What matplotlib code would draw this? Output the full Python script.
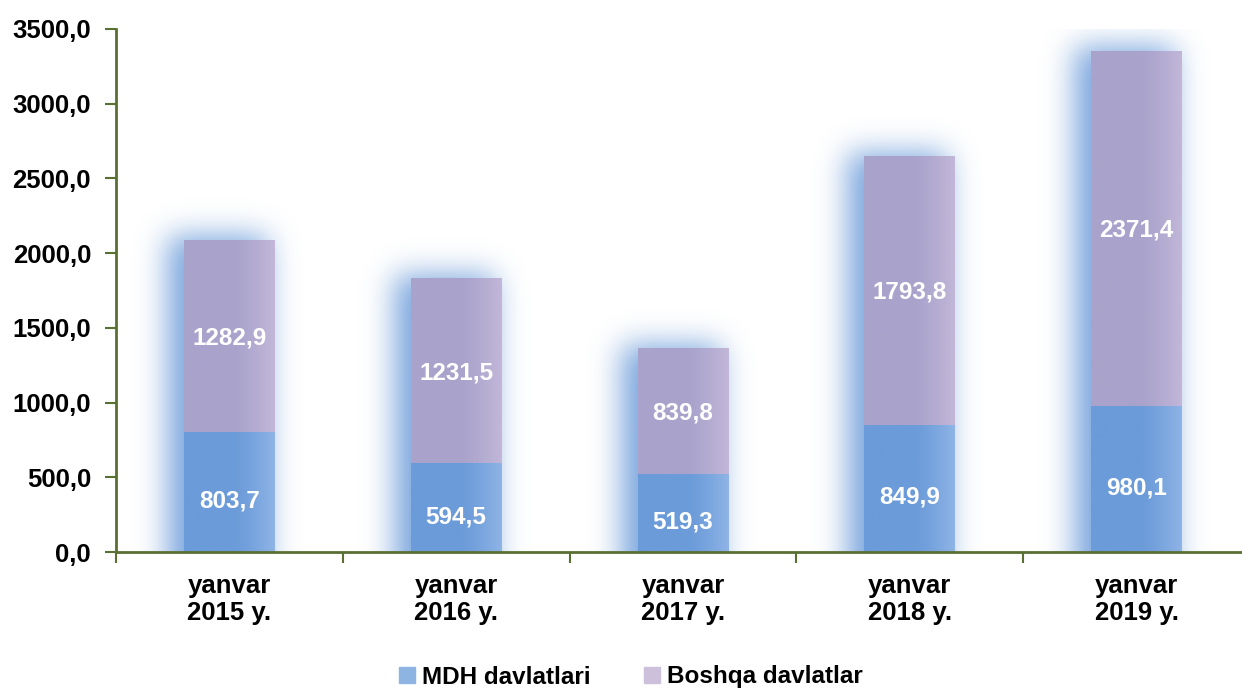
import numpy as np
import matplotlib
import matplotlib.pyplot as plt
from matplotlib.patches import Patch
from matplotlib.colors import to_rgb

matplotlib.rcParams['font.family'] = ['Liberation Sans', 'DejaVu Sans']
matplotlib.rcParams['font.weight'] = 'bold'

# Data
categories = ['yanvar\n2015 y.', 'yanvar\n2016 y.', 'yanvar\n2017 y.', 'yanvar\n2018 y.', 'yanvar\n2019 y.']
mdh = [803.7, 594.5, 519.3, 849.9, 980.1]
boshqa = [1282.9, 1231.5, 839.8, 1793.8, 2371.4]
yticks = [0, 500, 1000, 1500, 2000, 2500, 3000, 3500]

blue = '#6b9bd9'
lilac = '#a9a3cc'
axcol = '#5a7032'

fig = plt.figure(figsize=(12.42, 6.91), dpi=100)
ax = fig.add_axes([116/1242, 139/691, 1134/1242, 523/691])

x = np.arange(len(categories))
mdh = np.array(mdh)
boshqa = np.array(boshqa)
total = mdh + boshqa
w = 0.40
xmin, xmax, ymin, ymax = -0.5, len(x) - 0.5, 0, 3500

# soft blue glow behind the bars, made as a blurred mask image
nx, ny = 1134, 523
px = (xmax - xmin) / nx
py = (ymax - ymin) / ny
gx = xmin + (np.arange(nx) + 0.5) * px
gy = ymin + (np.arange(ny) + 0.5) * py
mask = np.zeros((ny, nx))
for i in range(len(x)):
    inx = (gx >= x[i] - w / 2 - 16 * px) & (gx <= x[i] + w / 2 - 8 * px)
    iny = gy <= total[i] + 4 * py
    mask[np.ix_(iny, inx)] = 1.0
sig = 15
k = np.exp(-0.5 * (np.arange(-3 * sig, 3 * sig + 1) / sig) ** 2)
k /= k.sum()
pad = 3 * sig
m = np.pad(mask, ((pad, pad), (pad, pad)), mode='edge')
m = np.apply_along_axis(lambda r: np.convolve(r, k, mode='same'), 1, m)
m = np.apply_along_axis(lambda c: np.convolve(c, k, mode='same'), 0, m)
m = m[pad:-pad, pad:-pad]
glow = np.zeros((ny, nx, 4))
glow[..., :3] = to_rgb(blue)
glow[..., 3] = np.clip(m * 0.9, 0, 1)
ax.imshow(glow, extent=(xmin, xmax, ymin, ymax), origin='lower', aspect='auto',
          interpolation='bilinear', zorder=1)


def grad(c0, c1, n=64):
    t = np.clip((np.linspace(0, 1, n) - 0.55) / 0.45, 0, 1) ** 1.3
    a = np.array(to_rgb(c0))
    b = np.array(to_rgb(c1))
    return (a[None, :] * (1 - t[:, None]) + b[None, :] * t[:, None])[None, :, :]


gblue = grad(blue, '#8fb4e6')
glil = grad(lilac, '#c2b7d8')
for i in range(len(x)):
    l, r = x[i] - w / 2, x[i] + w / 2
    ax.imshow(gblue, extent=(l, r, 0, mdh[i]), aspect='auto', interpolation='bilinear', zorder=3)
    ax.imshow(glil, extent=(l, r, mdh[i], total[i]), aspect='auto', interpolation='bilinear', zorder=3)

for i in range(len(x)):
    ax.text(x[i], mdh[i] / 2 - 60, f'{mdh[i]:.1f}'.replace('.', ','), ha='center', va='center',
            color='white', fontsize=17.5, fontweight='bold', zorder=5)
    ax.text(x[i], mdh[i] + boshqa[i] / 2 - 10, f'{boshqa[i]:.1f}'.replace('.', ','), ha='center',
            va='center', color='white', fontsize=17.5, fontweight='bold', zorder=5)

ax.set_xlim(xmin, xmax)
ax.set_ylim(ymin, ymax)
ax.set_yticks(yticks)
ax.set_yticklabels([f'{v:.1f}'.replace('.', ',') for v in yticks], fontsize=18.5, fontweight='bold')
ax.set_xticks(x)
ax.set_xticklabels(categories, fontsize=18.5, fontweight='bold', linespacing=1.15)
ax.tick_params(axis='x', length=0, pad=16)
ax.set_xticks(np.arange(len(x)) - 0.5, minor=True)
ax.tick_params(axis='x', which='minor', length=8, width=1.5, color=axcol, direction='out')
ax.tick_params(axis='y', length=8, width=1.5, color=axcol, direction='out', pad=10)

for s in ['top', 'right']:
    ax.spines[s].set_visible(False)
for s in ['left', 'bottom']:
    ax.spines[s].set_color(axcol)
    ax.spines[s].set_linewidth(2)
    ax.spines[s].set_zorder(6)

handles = [Patch(color='#8eb4e3', label='MDH davlatlari'), Patch(color='#ccc0da', label='Boshqa davlatlar')]
fig.legend(handles=handles, loc='center', bbox_to_anchor=(0.508, 1 - 677/691), ncol=2, frameon=False,
           prop={'size': 17.5, 'weight': 'bold'}, handlelength=0.65, handleheight=0.65,
           handletextpad=0.3, columnspacing=2.2)

fig.savefig('out.png', dpi=100)
